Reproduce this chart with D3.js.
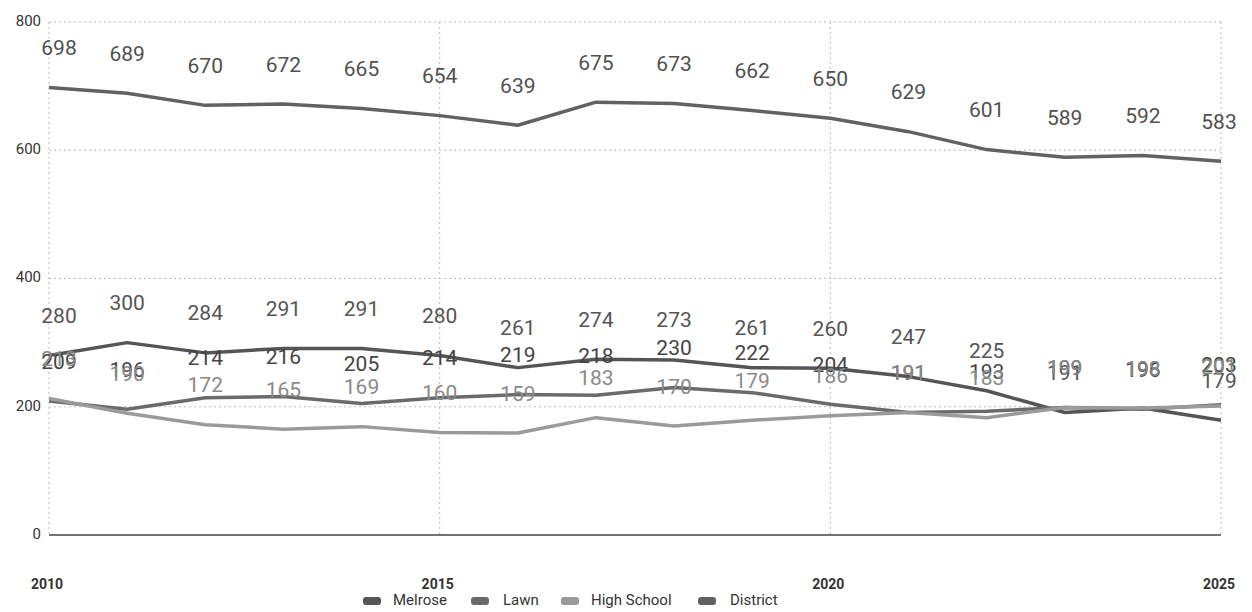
<!DOCTYPE html>
<html>
<head>
<meta charset="utf-8">
<script src="https://cdn.jsdelivr.net/npm/d3@7"></script>
<style>
  body { margin: 0; background: #fff; }
  svg { font-family: Roboto, "Noto Sans", sans-serif; }
</style>
</head>
<body>
<svg id="chart" width="1252" height="612"></svg>
<script>
"use strict";

const years = d3.range(2010, 2026);
const seriesNames = ["Melrose", "Lawn", "High School", "District"];
const melrose = [280, 300, 284, 291, 291, 280, 261, 274, 273, 261, 260, 247, 225, 191, 198, 179];
const lawn = [209, 196, 214, 216, 205, 214, 219, 218, 230, 222, 204, 191, 193, 199, 196, 203];
const highSchool = [213, 190, 172, 165, 169, 160, 159, 183, 170, 179, 186, 191, 183, 199, 198, 201];
const district = [698, 689, 670, 672, 665, 654, 639, 675, 673, 662, 650, 629, 601, 589, 592, 583];
const yTicks = [0, 200, 400, 600, 800];
const xTicks = [2010, 2015, 2020, 2025];

const lineColors = ["#555", "#6a6a6a", "#9a9a9a", "#626262"];
const labelColors = ["#555", "#444", "#8a8a8a", "#505050"];

const svg = d3.select("#chart");

const x = d3.scaleLinear().domain([2010, 2025]).range([49, 1221]);
const y = d3.scaleLinear().domain([0, 800]).range([535, 22]);

// grid
svg.append("g")
  .selectAll("line")
  .data(yTicks.filter((d) => d > 0))
  .join("line")
  .attr("x1", x(2010)).attr("x2", x(2025))
  .attr("y1", (d) => y(d)).attr("y2", (d) => y(d))
  .attr("stroke", "#bbb")
  .attr("stroke-width", 1)
  .attr("stroke-dasharray", "2,3");

svg.append("g")
  .selectAll("line")
  .data(xTicks)
  .join("line")
  .attr("x1", (d) => x(d)).attr("x2", (d) => x(d))
  .attr("y1", y(800)).attr("y2", y(0))
  .attr("stroke", "#bbb")
  .attr("stroke-width", 1)
  .attr("stroke-dasharray", "2,3");

// baseline
svg.append("line")
  .attr("x1", x(2010)).attr("x2", x(2025))
  .attr("y1", y(0)).attr("y2", y(0))
  .attr("stroke", "#444")
  .attr("stroke-width", 1.5);

// y axis labels
svg.append("g")
  .selectAll("text")
  .data(yTicks)
  .join("text")
  .attr("x", 41)
  .attr("y", (d) => y(d))
  .attr("text-anchor", "end")
  .attr("dominant-baseline", "middle")
  .attr("font-size", 15)
  .attr("fill", "#333")
  .text((d) => d);

// x axis labels
svg.append("g")
  .selectAll("text")
  .data(xTicks)
  .join("text")
  .attr("x", (d) => x(d) - 2)
  .attr("y", 585)
  .attr("text-anchor", "middle")
  .attr("dominant-baseline", "middle")
  .attr("font-size", 14)
  .attr("font-weight", "bold")
  .attr("fill", "#333")
  .text((d) => d);

const allSeries = [melrose, lawn, highSchool, district];

const line = d3.line()
  .x((d, i) => x(years[i]))
  .y((d) => y(d));

svg.append("g")
  .selectAll("path")
  .data(allSeries)
  .join("path")
  .attr("d", (d) => line(d))
  .attr("fill", "none")
  .attr("stroke", (d, i) => lineColors[i])
  .attr("stroke-width", 3.5)
  .attr("stroke-linejoin", "round");

// data labels
allSeries.forEach((vals, si) => {
  svg.append("g")
    .selectAll("text")
    .data(vals)
    .join("text")
    .attr("x", (d, i) => x(years[i]) + (i === 0 ? 10 : i === 15 ? -2 : 0))
    .attr("y", (d) => y(d) - 38)
    .attr("text-anchor", "middle")
    .attr("dominant-baseline", "middle")
    .attr("font-size", 21)
    .attr("fill", labelColors[si])
    .text((d) => d);
});

// legend
const legendX = [363, 471, 561, 698];
const legend = svg.append("g")
  .selectAll("g")
  .data(seriesNames)
  .join("g")
  .attr("transform", (d, i) => "translate(" + legendX[i] + ",601)");

legend.append("rect")
  .attr("x", 0).attr("y", -4)
  .attr("width", 18).attr("height", 8)
  .attr("rx", 3)
  .attr("fill", (d, i) => lineColors[i]);

legend.append("text")
  .attr("x", (d, i) => (i % 2 === 1 ? 32 : 30))
  .attr("y", 0)
  .attr("dominant-baseline", "middle")
  .attr("font-size", 15)
  .attr("fill", "#333")
  .text((d) => d);
</script>
</body>
</html>
